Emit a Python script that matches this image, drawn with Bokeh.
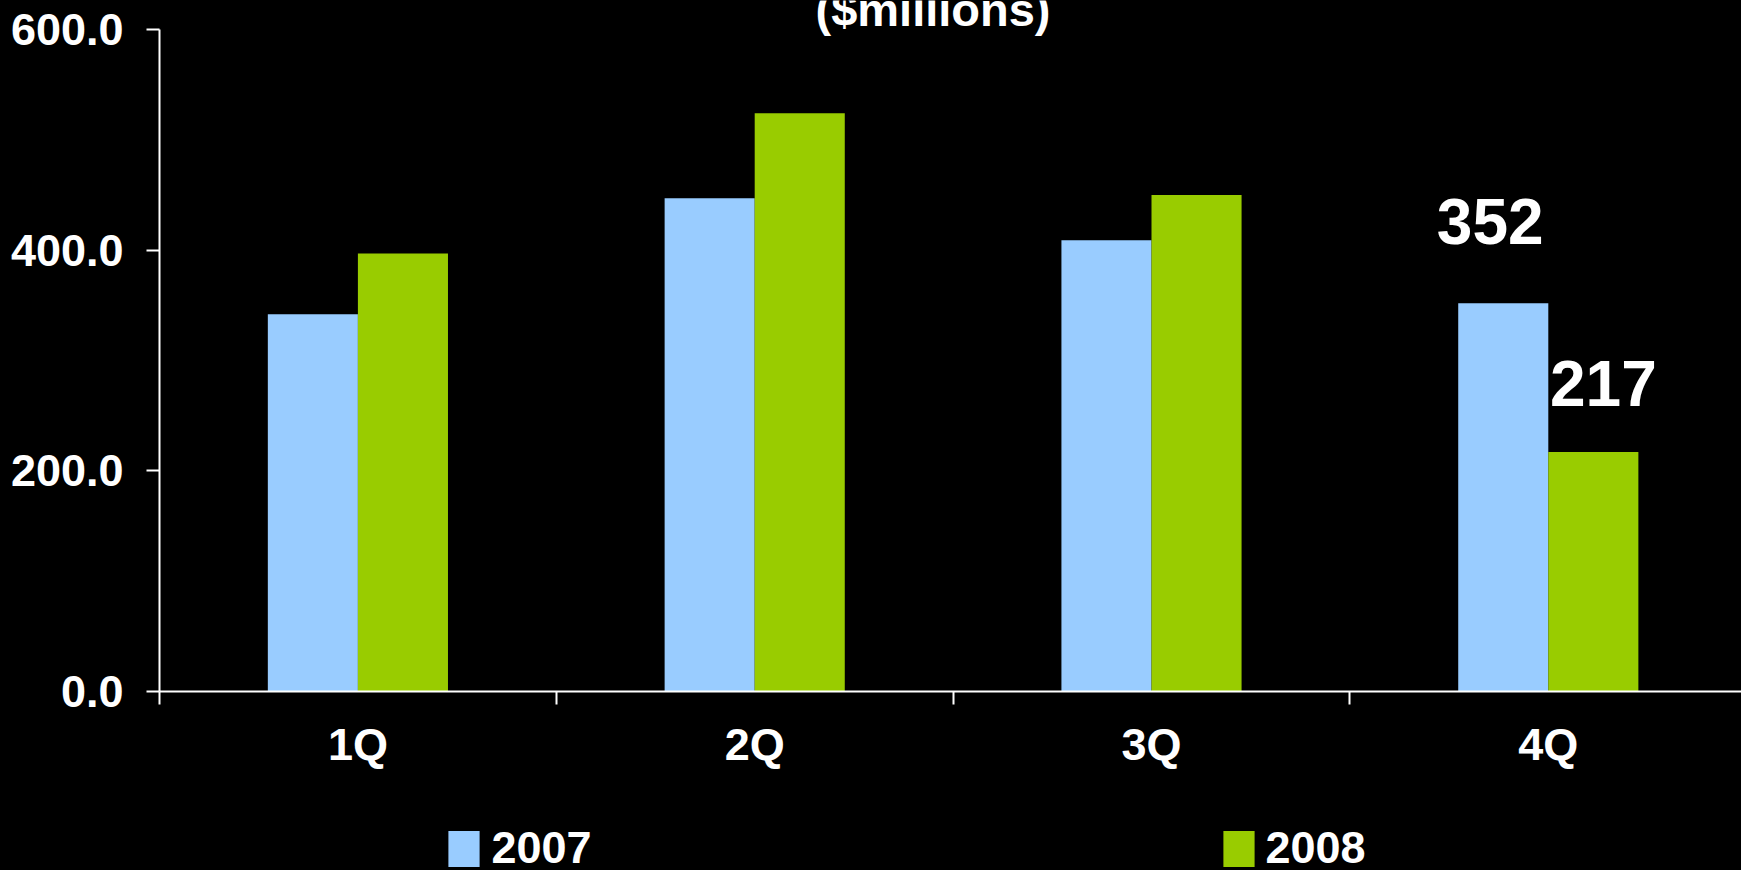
from bokeh.plotting import figure
from bokeh.layouts import column
from bokeh.models import (Range1d, FixedTicker, NumeralTickFormatter, Legend, LegendItem,
                          Label, ColumnDataSource)
from bokeh.core.properties import value
from bokeh.embed import file_html
from bokeh.resources import INLINE

# ---- data ----
quarters = ["1Q", "2Q", "3Q", "4Q"]
series_names = ["2007", "2008"]
values_2007 = [342, 447, 409, 352]
values_2008 = [397, 524, 450, 217]
y_ticks = [0, 200, 400, 600]
y_max = 600
annot_quarter = "4Q"
annot_2007 = 352
annot_2008 = 217
title_text = "($millions)"

C2007 = "#99CCFF"
C2008 = "#99CC00"
FONT = "Liberation Sans"

W, H = 1741, 870
LEG_H = 70
MAIN_H = H - LEG_H
left = 159
axis_top_px = 29          # where the 600 tick sits
frame_bottom = 691
bottom = MAIN_H - frame_bottom
frame_w = W - left
cat_px = 396.8
bar_w = 0.227
px_per_unit = (frame_bottom - axis_top_px) / y_max
y_end = frame_bottom / px_per_unit

idx = list(range(len(quarters)))
x07 = [i + 0.5 - bar_w / 2 for i in idx]
x08 = [i + 0.5 + bar_w / 2 for i in idx]

p = figure(width=W, height=MAIN_H, output_backend="svg", toolbar_location=None,
           x_range=Range1d(0, frame_w / cat_px), y_range=Range1d(0, y_end),
           min_border_left=left, min_border_right=0, min_border_top=0,
           min_border_bottom=bottom)
p.background_fill_color = "black"
p.border_fill_color = "black"
p.outline_line_color = None
p.grid.visible = False

r07 = p.vbar(x=x07, top=values_2007, width=bar_w, color=C2007, line_color=None)
r08 = p.vbar(x=x08, top=values_2008, width=bar_w, color=C2008, line_color=None)

# y axis
ya = p.yaxis[0]
ya.bounds = (0, y_max)
ya.ticker = FixedTicker(ticks=y_ticks, minor_ticks=[])
ya.formatter = NumeralTickFormatter(format="0.0")
ya.axis_line_color = "white"
ya.axis_line_width = 2
ya.major_tick_line_color = "white"
ya.major_tick_line_width = 2
ya.major_tick_out = 13
ya.major_tick_in = 0
ya.minor_tick_line_color = None
ya.major_label_text_color = "white"
ya.major_label_text_font = FONT
ya.major_label_text_font_style = "bold"
ya.major_label_text_font_size = "45px"
ya.major_label_standoff = 23

# x axis: labels at category centres, ticks at boundaries
xa = p.xaxis[0]
xa.ticker = FixedTicker(ticks=[i + 0.5 for i in idx], minor_ticks=idx)
xa.major_label_overrides = {i + 0.5: q for i, q in zip(idx, quarters)}
xa.axis_line_color = "white"
xa.axis_line_width = 2
xa.major_tick_line_color = None
xa.major_tick_out = 0
xa.major_tick_in = 0
xa.minor_tick_line_color = "white"
xa.minor_tick_line_width = 2
xa.minor_tick_out = 13
xa.minor_tick_in = 0
xa.major_label_text_color = "white"
xa.major_label_text_font = FONT
xa.major_label_text_font_style = "bold"
xa.major_label_text_font_size = "45px"
xa.major_label_standoff = 14

# annotations on 4Q
qi = quarters.index(annot_quarter)
src = ColumnDataSource(dict(x=[x07[qi], x08[qi]], y=[annot_2007, annot_2008],
                            t=[str(annot_2007), str(annot_2008)],
                            xo=[-13, 10], yo=[-82, -69]))
p.text(x="x", y="y", text="t", x_offset="xo", y_offset="yo", source=src,
       text_color="white", text_font=value(FONT), text_font_style="bold",
       text_font_size="64px", text_align="center", text_baseline="alphabetic")

# title (partly cut off at the top edge, as in the original)
p.add_layout(Label(x=932.5 - left, y=frame_bottom - 9, x_units="screen", y_units="screen",
                   text=title_text, text_color="white", text_font=FONT,
                   text_font_style="bold", text_font_size="47px",
                   text_align="center", text_baseline="alphabetic"))

# legend strip below (its own swatch renderers have zero height and lie out of view)
lf = figure(width=W, height=LEG_H, output_backend="svg", toolbar_location=None,
            x_range=Range1d(-101, -100), y_range=Range1d(-10, -5),
            x_axis_type=None, y_axis_type=None,
            min_border=0, min_border_left=0, min_border_right=0,
            min_border_top=0, min_border_bottom=0)
lf.background_fill_alpha = 0
lf.border_fill_alpha = 0
lf.outline_line_color = None
lf.grid.visible = False
lr07 = lf.vbar(x=x07, top=values_2007, bottom=values_2007, width=bar_w,
               color=C2007, line_color=None)
lr08 = lf.vbar(x=x08, top=values_2008, bottom=values_2008, width=bar_w,
               color=C2008, line_color=None)
legend = Legend(items=[LegendItem(label=series_names[0], renderers=[lr07]),
                       LegendItem(label=series_names[1], renderers=[lr08])],
                orientation="horizontal", location=(444.4 - left, -4),
                padding=0, margin=0, spacing=627, border_line_color=None,
                background_fill_alpha=0, glyph_width=39, glyph_height=45,
                label_height=36, label_standoff=8,
                label_text_color="white", label_text_font=FONT,
                label_text_font_style="bold", label_text_font_size="45px")
lf.add_layout(legend, "center")

layout = column(p, lf, spacing=0, styles={"background-color": "black"})
open("out.html", "w").write(file_html(layout, INLINE))
